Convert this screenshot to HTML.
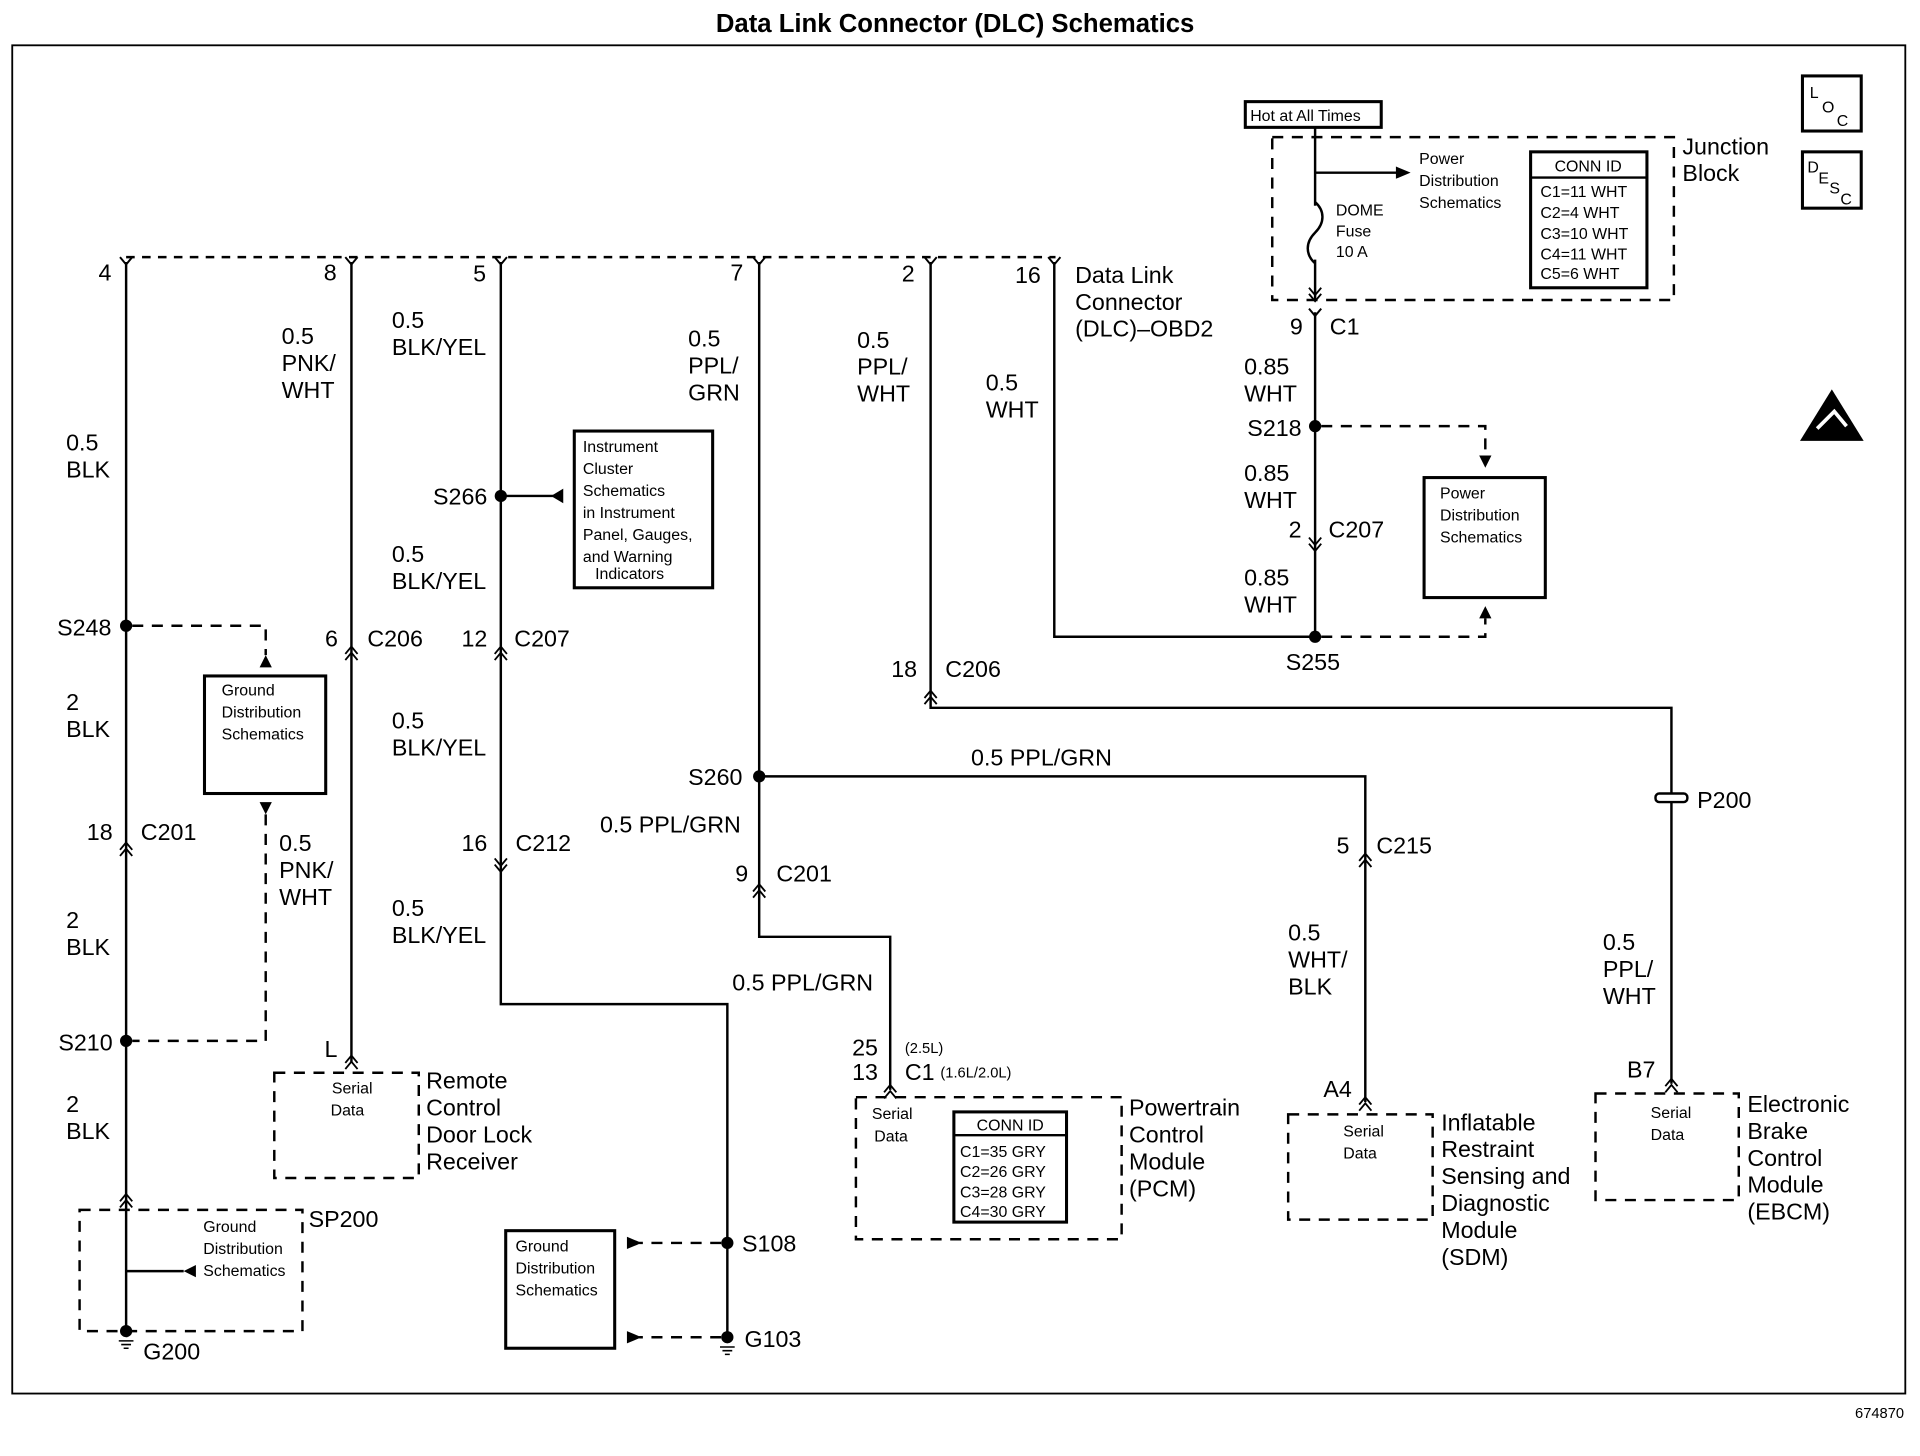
<!DOCTYPE html>
<html><head><meta charset="utf-8"><style>
html,body{margin:0;padding:0;background:#fff}
svg{display:block}
text{font-family:"Liberation Sans",Arial,sans-serif;fill:#000}
.l{font-size:19px}
.s{font-size:13px}
.t{font-size:12px}
</style></head><body>
<svg width="1920" height="1456" viewBox="0 0 1568 1189" preserveAspectRatio="none" xmlns="http://www.w3.org/2000/svg">
<defs>
<g id="up"><path d="M-5,6 L0,0 L5,6 M-5,11 L0,5 L5,11" fill="none" stroke="#000" stroke-width="1.5"/></g>
<g id="dn"><path d="M-5,-6 L0,0 L5,-6 M-5,-11 L0,-5 L5,-11" fill="none" stroke="#000" stroke-width="1.5"/></g>
<g id="fk"><path d="M-5,-6 L0,0 L5,-6" fill="none" stroke="#000" stroke-width="1.6"/></g>
<g id="gnd"><path d="M-6,0 H6 M-4,3 H4 M-2,6 H2" stroke="#000" stroke-width="1.3"/></g>
</defs>
<text x="780" y="26" text-anchor="middle" style="font-size:21px;font-weight:bold">Data Link Connector (DLC) Schematics</text>
<rect x="10" y="37" width="1546" height="1101" fill="none" stroke="#000" stroke-width="1.5"/>
<text x="1555" y="1158" text-anchor="end" class="t">674870</text>

<g fill="none" stroke="#000" stroke-width="2">
<path d="M103,210 H862" stroke-dasharray="7,6"/>
<path d="M103,214 V1087"/>
<path d="M287,214 V868"/>
<path d="M409,214 V820 H594 V1092"/>
<path d="M620,214 V765 H727 V890"/>
<path d="M620,634 H1115 V900"/>
<path d="M760,214 V578 H1365 V885"/>
<path d="M861,214 V520 H1074"/>
<path d="M1074,104 V245 M1074,255 V520"/>
<path d="M1074,141 H1145"/>
<path d="M409,405 H452"/>
<path d="M103,1038 H150"/>
</g>
<g fill="#000">
<path d="M1152,141 L1140,136 L1140,146 Z"/>
<path d="M450,405 L460,399 L460,411 Z"/>
<path d="M150,1038 L160,1033 L160,1043 Z"/>
</g>
<use href="#fk" x="103" y="216"/><use href="#fk" x="287" y="216"/><use href="#fk" x="409" y="216"/><use href="#fk" x="620" y="216"/><use href="#fk" x="760" y="216"/><use href="#fk" x="861" y="216"/>
<use href="#up" x="287" y="528"/><use href="#up" x="409" y="528"/><use href="#up" x="103" y="688"/><use href="#dn" x="409" y="712"/>
<use href="#up" x="620" y="722"/><use href="#up" x="760" y="564"/><use href="#up" x="1115" y="697"/><use href="#dn" x="1074" y="450"/>
<use href="#up" x="103" y="975"/><use href="#up" x="287" y="862"/><use href="#up" x="727" y="886"/><use href="#up" x="1115" y="896"/><use href="#up" x="1365" y="881"/>
<use href="#dn" x="1074" y="246"/><use href="#fk" x="1074" y="258"/>
<g fill="#000">
<circle cx="103" cy="511" r="5"/><circle cx="103" cy="850" r="5"/><circle cx="409" cy="405" r="5"/><circle cx="620" cy="634" r="5"/>
<circle cx="594" cy="1015" r="5"/><circle cx="594" cy="1092" r="5"/><circle cx="103" cy="1087" r="5"/>
<circle cx="1074" cy="348" r="5"/><circle cx="1074" cy="520" r="5"/>
</g>
<use href="#gnd" x="103" y="1095"/><use href="#gnd" x="594" y="1100"/>
<rect x="1352" y="648" width="26" height="7" rx="3" fill="#fff" stroke="#000" stroke-width="2"/>
<g fill="none" stroke="#000" stroke-width="2" stroke-dasharray="9,7">
<path d="M108,511 H217 V535"/>
<path d="M217,665 V850 H108"/>
<path d="M1079,348 H1213 V372"/>
<path d="M1079,520 H1213 V505"/>
<path d="M589,1015 H522"/>
<path d="M589,1092 H522"/>
<rect x="1039" y="112" width="328" height="133"/>
<rect x="65" y="988" width="182" height="99"/>
<rect x="224" y="876" width="118" height="86"/>
<rect x="699" y="896" width="217" height="116"/>
<rect x="1052" y="910" width="118" height="86"/>
<rect x="1303" y="893" width="117" height="87"/>
</g>
<g fill="#000">
<path d="M217,535 L212,545 L222,545 Z"/>
<path d="M217,665 L212,655 L222,655 Z"/>
<path d="M1213,382 L1208,372 L1218,372 Z"/>
<path d="M1213,495 L1208,505 L1218,505 Z"/>
<path d="M524,1015 L512,1010 L512,1020 Z"/>
<path d="M524,1092 L512,1087 L512,1097 Z"/>
</g>
<g fill="#fff" stroke="#000" stroke-width="2.5">
<rect x="167" y="552" width="99" height="96"/>
<rect x="469" y="352" width="113" height="128"/>
<rect x="413" y="1005" width="89" height="96"/>
<rect x="1163" y="390" width="99" height="98"/>
<rect x="1250" y="124" width="95" height="111"/>
<rect x="779" y="908" width="92" height="90"/>
<rect x="1017" y="83" width="111" height="21"/>
<rect x="1472" y="62" width="48" height="45"/>
<rect x="1472" y="124" width="48" height="46"/>
</g>
<path d="M1250,145 H1345 M779,927 H871" stroke="#000" stroke-width="2"/>
<rect x="1072" y="168" width="4" height="44" fill="#fff"/>
<path d="M1074,165 C1082,172 1082,182 1074,190 C1066,198 1066,208 1074,215" fill="none" stroke="#000" stroke-width="2"/>
<path d="M1470,360 L1496,318 L1522,360 Z" fill="#000"/>
<path d="M1484,350 L1498,336 L1508,348" stroke="#fff" stroke-width="3" fill="none"/>

<g class="l">
<text x="91" y="229" text-anchor="end">4</text><text x="275" y="229" text-anchor="end">8</text><text x="397" y="230" text-anchor="end">5</text><text x="607" y="229" text-anchor="end">7</text><text x="747" y="230" text-anchor="end">2</text><text x="850" y="231" text-anchor="end">16</text>
<text x="878" y="231">Data Link</text><text x="878" y="253">Connector</text><text x="878" y="275">(DLC)–OBD2</text>
<text x="54" y="368">0.5</text><text x="54" y="390">BLK</text>
<text x="230" y="281">0.5</text><text x="230" y="303">PNK/</text><text x="230" y="325">WHT</text>
<text x="320" y="268">0.5</text><text x="320" y="290">BLK/YEL</text>
<text x="562" y="283">0.5</text><text x="562" y="305">PPL/</text><text x="562" y="327">GRN</text>
<text x="700" y="284">0.5</text><text x="700" y="306">PPL/</text><text x="700" y="328">WHT</text>
<text x="805" y="319">0.5</text><text x="805" y="341">WHT</text>
<text x="398" y="412" text-anchor="end">S266</text>
<text x="320" y="459">0.5</text><text x="320" y="481">BLK/YEL</text>
<text x="91" y="519" text-anchor="end">S248</text>
<text x="276" y="528" text-anchor="end">6</text><text x="300" y="528">C206</text>
<text x="398" y="528" text-anchor="end">12</text><text x="420" y="528">C207</text>
<text x="54" y="580">2</text><text x="54" y="602">BLK</text>
<text x="320" y="595">0.5</text><text x="320" y="617">BLK/YEL</text>
<text x="92" y="686" text-anchor="end">18</text><text x="115" y="686">C201</text>
<text x="228" y="695">0.5</text><text x="228" y="717">PNK/</text><text x="228" y="739">WHT</text>
<text x="398" y="695" text-anchor="end">16</text><text x="421" y="695">C212</text>
<text x="320" y="748">0.5</text><text x="320" y="770">BLK/YEL</text>
<text x="54" y="758">2</text><text x="54" y="780">BLK</text>
<text x="92" y="858" text-anchor="end">S210</text>
<text x="54" y="908">2</text><text x="54" y="930">BLK</text>
<text x="265" y="863">L</text>
<text x="348" y="889">Remote</text><text x="348" y="911">Control</text><text x="348" y="933">Door Lock</text><text x="348" y="955">Receiver</text>
<text x="252" y="1002">SP200</text>
<text x="117" y="1110">G200</text>
<text x="606" y="1022">S108</text><text x="608" y="1100">G103</text>
<text x="562" y="641">S260</text>
<text x="793" y="625">0.5 PPL/GRN</text>
<text x="490" y="680">0.5 PPL/GRN</text>
<text x="611" y="720" text-anchor="end">9</text><text x="634" y="720">C201</text>
<text x="598" y="809">0.5 PPL/GRN</text>
<text x="749" y="553" text-anchor="end">18</text><text x="772" y="553">C206</text>
<text x="1102" y="697" text-anchor="end">5</text><text x="1124" y="697">C215</text>
<text x="1052" y="768">0.5</text><text x="1052" y="790">WHT/</text><text x="1052" y="812">BLK</text>
<text x="1386" y="660">P200</text>
<text x="1309" y="776">0.5</text><text x="1309" y="798">PPL/</text><text x="1309" y="820">WHT</text>
<text x="1104" y="896" text-anchor="end">A4</text>
<text x="1352" y="880" text-anchor="end">B7</text>
<text x="717" y="862" text-anchor="end">25</text><text x="717" y="882" text-anchor="end">13</text><text x="739" y="882">C1</text>
<text x="922" y="911">Powertrain</text><text x="922" y="933">Control</text><text x="922" y="955">Module</text><text x="922" y="977">(PCM)</text>
<text x="1177" y="923">Inflatable</text><text x="1177" y="945">Restraint</text><text x="1177" y="967">Sensing and</text><text x="1177" y="989">Diagnostic</text><text x="1177" y="1011">Module</text><text x="1177" y="1033">(SDM)</text>
<text x="1427" y="908">Electronic</text><text x="1427" y="930">Brake</text><text x="1427" y="952">Control</text><text x="1427" y="974">Module</text><text x="1427" y="996">(EBCM)</text>
<text x="1064" y="273" text-anchor="end">9</text><text x="1086" y="273">C1</text>
<text x="1016" y="306">0.85</text><text x="1016" y="328">WHT</text>
<text x="1063" y="356" text-anchor="end">S218</text>
<text x="1016" y="393">0.85</text><text x="1016" y="415">WHT</text>
<text x="1063" y="439" text-anchor="end">2</text><text x="1085" y="439">C207</text>
<text x="1016" y="478">0.85</text><text x="1016" y="500">WHT</text>
<text x="1050" y="547">S255</text>
<text x="1374" y="126">Junction</text><text x="1374" y="148">Block</text>
</g>
<g class="s">
<text x="181" y="568">Ground</text><text x="181" y="586">Distribution</text><text x="181" y="604">Schematics</text>
<text x="166" y="1006">Ground</text><text x="166" y="1024">Distribution</text><text x="166" y="1042">Schematics</text>
<text x="421" y="1022">Ground</text><text x="421" y="1040">Distribution</text><text x="421" y="1058">Schematics</text>
<text x="476" y="369">Instrument</text><text x="476" y="387">Cluster</text><text x="476" y="405">Schematics</text><text x="476" y="423">in Instrument</text><text x="476" y="441">Panel, Gauges,</text><text x="476" y="459">and Warning</text><text x="486" y="473">Indicators</text>
<text x="1176" y="407">Power</text><text x="1176" y="425">Distribution</text><text x="1176" y="443">Schematics</text>
<text x="1159" y="134">Power</text><text x="1159" y="152">Distribution</text><text x="1159" y="170">Schematics</text>
<text x="1091" y="176">DOME</text><text x="1091" y="193">Fuse</text><text x="1091" y="210">10 A</text>
<text x="1021" y="99">Hot at All Times</text>
<text x="1297" y="140" text-anchor="middle">CONN ID</text>
<text x="1258" y="161">C1=11 WHT</text><text x="1258" y="178">C2=4 WHT</text><text x="1258" y="195">C3=10 WHT</text><text x="1258" y="212">C4=11 WHT</text><text x="1258" y="228">C5=6 WHT</text>
<text x="825" y="923" text-anchor="middle">CONN ID</text>
<text x="784" y="945">C1=35 GRY</text><text x="784" y="961">C2=26 GRY</text><text x="784" y="978">C3=28 GRY</text><text x="784" y="994">C4=30 GRY</text>
<text x="271" y="893">Serial</text><text x="270" y="911">Data</text>
<text x="712" y="914">Serial</text><text x="714" y="932">Data</text>
<text x="1097" y="928">Serial</text><text x="1097" y="946">Data</text>
<text x="1348" y="913">Serial</text><text x="1348" y="931">Data</text>
<text x="1478" y="80">L</text><text x="1488" y="92">O</text><text x="1500" y="103">C</text>
<text x="1476" y="141">D</text><text x="1485" y="150">E</text><text x="1494" y="158">S</text><text x="1503" y="167">C</text>
</g>
<text x="739" y="860" class="t">(2.5L)</text>
<text x="768" y="880" class="t">(1.6L/2.0L)</text>
</svg>
</body></html>
